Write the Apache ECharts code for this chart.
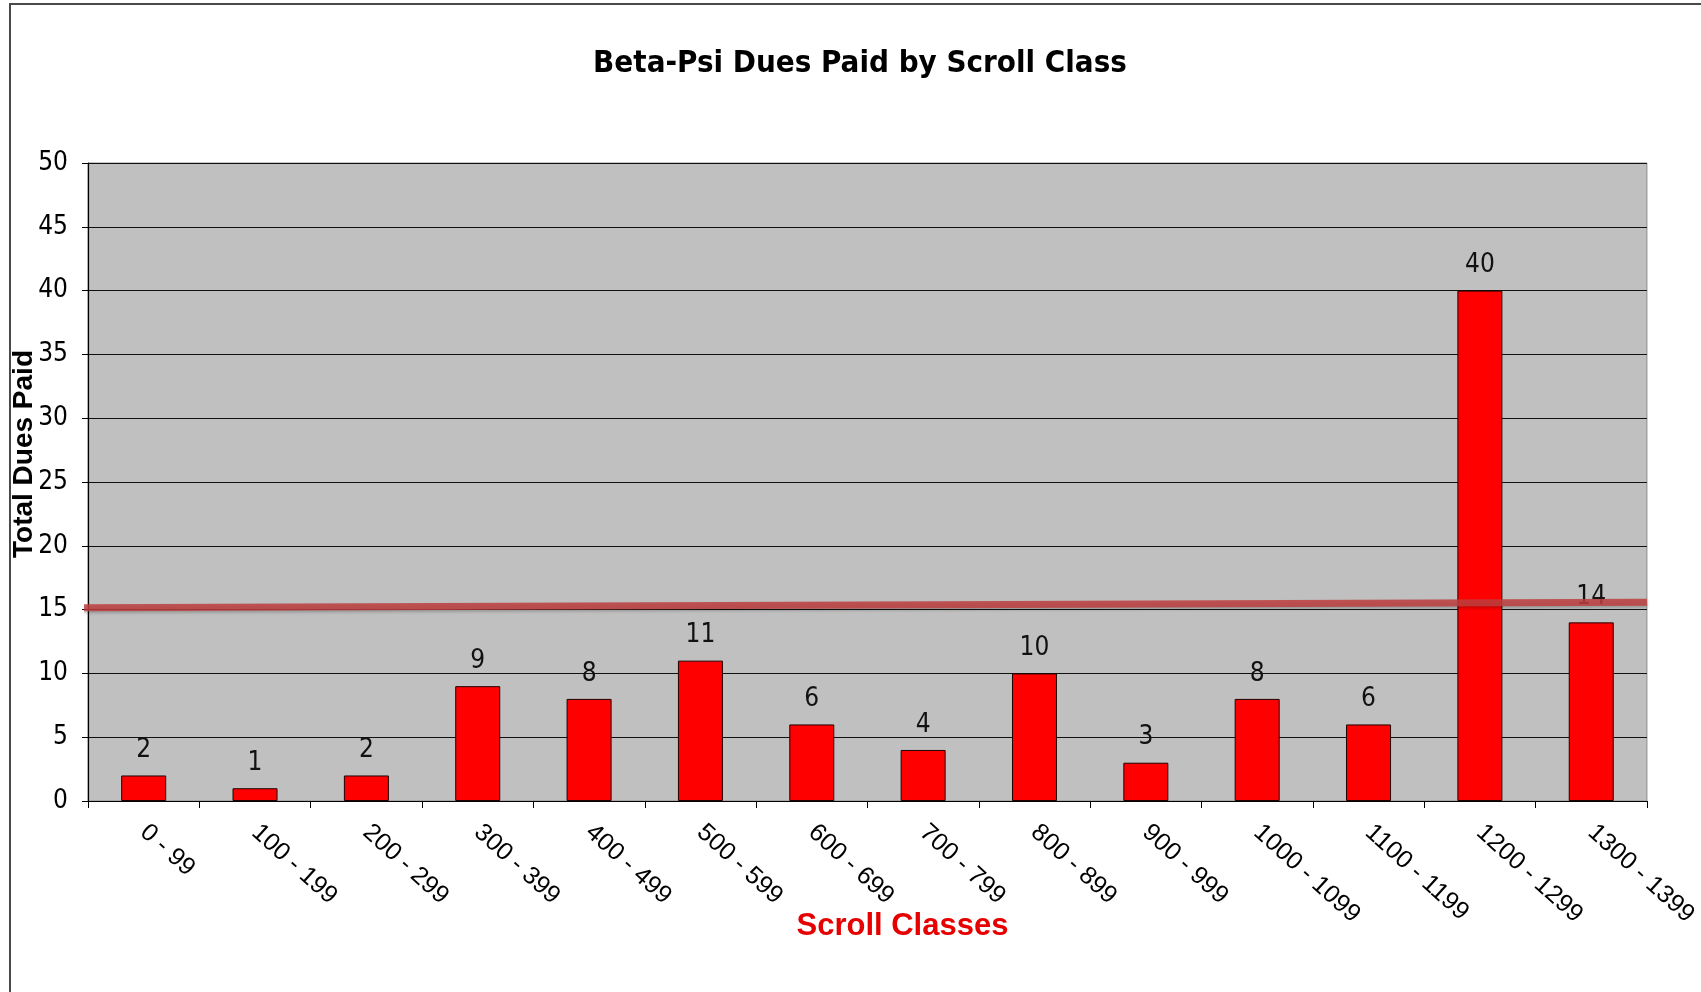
<!DOCTYPE html>
<html>
<head>
<meta charset="utf-8">
<title>Beta-Psi Dues Paid by Scroll Class</title>
<script src="https://cdn.jsdelivr.net/npm/echarts@6/dist/echarts.min.js"></script>
<style>
html, body { margin: 0; padding: 0; background: #fff; }
#chart { position: absolute; left: 0; top: 0; width: 1701px; height: 992px; }
/* outer frame of the original slide */
#frame {
	position: absolute; left: 9px; top: 3px; right: 0; bottom: 0;
	border-left: 2px solid #4a4a4a; border-top: 2px solid #4a4a4a;
	pointer-events: none;
}
</style>
</head>
<body>
<div id="chart"></div>
<div id="frame"></div>
<script>
// scroll classes on the x axis
const scrollClasses = ['0 - 99', '100 - 199', '200 - 299', '300 - 399', '400 - 499', '500 - 599', '600 - 699',
	'700 - 799', '800 - 899', '900 - 999', '1000 - 1099', '1100 - 1199', '1200 - 1299', '1300 - 1399']
// total dues paid per class
const duesPaid = [2, 1, 2, 9, 8, 11, 6, 4, 10, 3, 8, 6, 40, 14]
// hand-drawn reference line, value at left and right end
const refLineX = [-0.0035, 1]
const refLineY = [15.15, 15.58]
// y ticks
const yMin = 0
const yMax = 50
const yStep = 5

const narrow = '"DejaVu Sans Condensed", "Liberation Sans Narrow", sans-serif'
const arial = '"Liberation Sans", Arial, sans-serif'

const chart = echarts.init(document.getElementById('chart'))

const option = {
	animation: false,
	backgroundColor: 'transparent',
	title: {
		text: 'Beta-Psi Dues Paid by Scroll Class',
		left: 855,
		textAlign: 'center',
		top: 43,
		textStyle: { fontFamily: narrow, fontSize: 31, fontWeight: 'bold', color: '#000' }
	},
	grid: {
		left: 88,
		right: 54,
		top: 163,
		bottom: 191,
		show: true,
		backgroundColor: '#c0c0c0',
		borderColor: '#8c8c8c',
		borderWidth: 1
	},
	xAxis: [
		{
			type: 'category',
			data: scrollClasses,
			name: 'Scroll Classes',
			nameLocation: 'middle',
			nameGap: 110,
			nameMoveOverlap: false,
			nameTextStyle: { fontFamily: arial, fontSize: 31, fontWeight: 'bold', color: '#e60000', padding: [0, 0, 0, 70] },
			axisLine: { lineStyle: { color: '#000', width: 1.2 } },
			axisTick: { show: true, length: 7, lineStyle: { color: '#000' } },
			axisLabel: { rotate: -42, margin: 28, fontFamily: arial, fontSize: 25, color: '#000', interval: 0 }
		},
		{
			// helper axis for the sloped reference line
			type: 'value',
			min: 0,
			max: 1,
			show: false
		}
	],
	yAxis: {
		type: 'value',
		min: yMin,
		max: yMax,
		interval: yStep,
		name: 'Total Dues Paid',
		nameLocation: 'middle',
		nameGap: 50,
		nameMoveOverlap: false,
		nameTextStyle: { fontFamily: arial, fontSize: 28, fontWeight: 'bold', color: '#000', padding: [0, 0, 0, 56] },
		axisLine: { show: true, lineStyle: { color: '#000', width: 1.2 } },
		axisTick: { show: true, length: 6, lineStyle: { color: '#000' } },
		axisLabel: { margin: 20, fontFamily: narrow, fontSize: 26, color: '#000' },
		splitLine: { lineStyle: { color: '#111', width: 1.2 } }
	},
	series: [
		{
			name: 'Dues',
			type: 'bar',
			data: duesPaid,
			barWidth: 45,
			itemStyle: { color: '#ff0000', borderColor: '#200000', borderWidth: 1 },
			label: {
				show: true,
				position: 'top',
				distance: 12,
				fontFamily: narrow,
				fontSize: 26,
				color: '#111'
			}
		},
		{
			name: 'Reference',
			type: 'line',
			xAxisIndex: 1,
			data: [[refLineX[0], refLineY[0]], [refLineX[1], refLineY[1]]],
			symbol: 'none',
			clip: false,
			silent: true,
			z: 5,
			lineStyle: {
				color: 'rgba(190, 62, 62, 0.85)',
				width: 7,
				shadowColor: 'rgba(0, 0, 0, 0.25)',
				shadowBlur: 3,
				shadowOffsetY: 2
			}
		}
	]
}

chart.setOption(option)
</script>
</body>
</html>
